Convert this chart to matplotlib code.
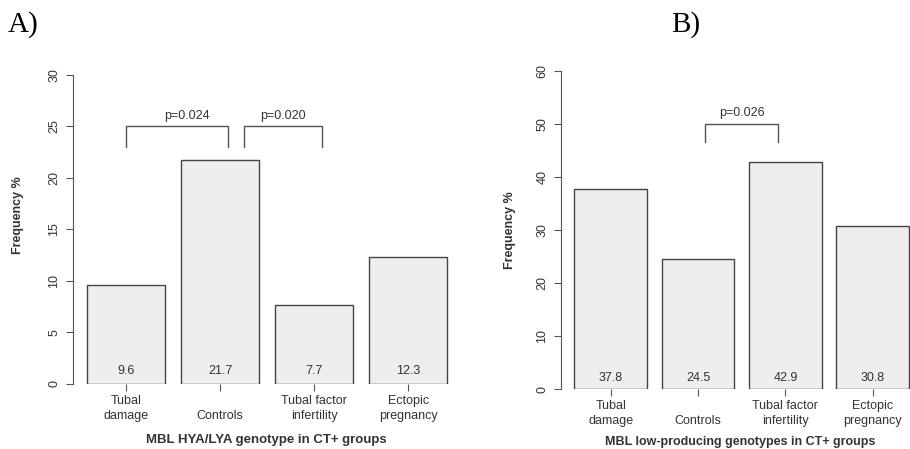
import matplotlib.pyplot as plt

plt.rcParams['font.family'] = ['Liberation Sans', 'DejaVu Sans']

groups = ['Tubal\ndamage', '\nControls', 'Tubal factor\ninfertility', 'Ectopic\npregnancy']
freq_a = [9.6, 21.7, 7.7, 12.3]
freq_b = [37.8, 24.5, 42.9, 30.8]
ticks_a = [0, 5, 10, 15, 20, 25, 30]
ticks_b = [0, 10, 20, 30, 40, 50, 60]

# brackets: (x0, x1, top, leg bottom, text x, text y, text)
brackets_a = [(0.7, 2.0, 25, 23, 1.48, 26, 'p=0.024'),
              (2.2, 3.2, 25, 23, 2.7, 26, 'p=0.020')]
brackets_b = [(2.0, 3.0, 50, 46.7, 2.5, 52, 'p=0.026')]

txt = '#333333'
axc = '#555555'

fig = plt.figure(figsize=(9.1, 4.49), dpi=100)


def panel(rect, vals, yticks, ymax, brackets, lab_y):
    ax = fig.add_axes(rect)
    x = [0.7 + 1.2 * i for i in range(len(vals))]
    ax.bar(x, vals, width=1.0, color='#eeeeee', edgecolor='#444444',
           linewidth=1.0, zorder=2)
    for xi, v in zip(x, vals):
        ax.text(xi, lab_y, '%.1f' % v, ha='center', va='center',
                fontsize=9, color=txt, zorder=3)
    for x0, x1, top, bot, tx, ty, s in brackets:
        ax.plot([x0, x0, x1, x1], [bot, top, top, bot], color=axc,
                lw=1.0, clip_on=False)
        ax.text(tx, ty, s, ha='center', va='center', fontsize=9, color=txt)
    ax.set_xlim(0.016, 4.984)
    ax.set_ylim(0, ymax)
    for s in ['top', 'right', 'bottom']:
        ax.spines[s].set_visible(False)
    ax.spines['left'].set_color(axc)
    ax.spines['left'].set_bounds(0, ymax)
    ax.set_yticks(yticks)
    ax.set_yticklabels([str(t) for t in yticks], rotation=90, va='center',
                       fontsize=9, color=txt)
    ax.set_xticks(x)
    ax.set_xticklabels(groups, fontsize=9, color=txt, linespacing=1.35)
    ax.tick_params(axis='y', length=5, width=0.8, color=axc, pad=4)
    ax.tick_params(axis='x', length=5, width=0.8, color=axc, pad=3)
    ax.patch.set_visible(False)
    return ax


panel([0.0798, 0.1448, 0.4275, 0.6882], freq_a, ticks_a, 30, brackets_a, 1.3)
panel([0.6165, 0.1336, 0.3972, 0.7082], freq_b, ticks_b, 60, brackets_b, 2.1)

fig.text(18 / 910, 1 - 215 / 449, 'Frequency %', rotation=90, ha='center',
         va='center', fontsize=9, fontweight='bold', color=txt)
fig.text(510 / 910, 1 - 230 / 449, 'Frequency %', rotation=90, ha='center',
         va='center', fontsize=9, fontweight='bold', color=txt)
fig.text(266 / 910, 1 - 440 / 449, 'MBL HYA/LYA genotype in CT+ groups',
         ha='center', va='center', fontsize=9.5, fontweight='bold', color=txt)
fig.text(740 / 910, 1 - 442 / 449, 'MBL low-producing genotypes in CT+ groups',
         ha='center', va='center', fontsize=9, fontweight='bold', color=txt)

fig.text(8 / 910, 1 - 25 / 449, 'A)', ha='left', va='center', fontsize=21,
         family='Liberation Serif', color='black')
fig.text(671 / 910, 1 - 25 / 449, 'B)', ha='left', va='center', fontsize=21,
         family='Liberation Serif', color='black')

fig.savefig('out.png', dpi=100)
